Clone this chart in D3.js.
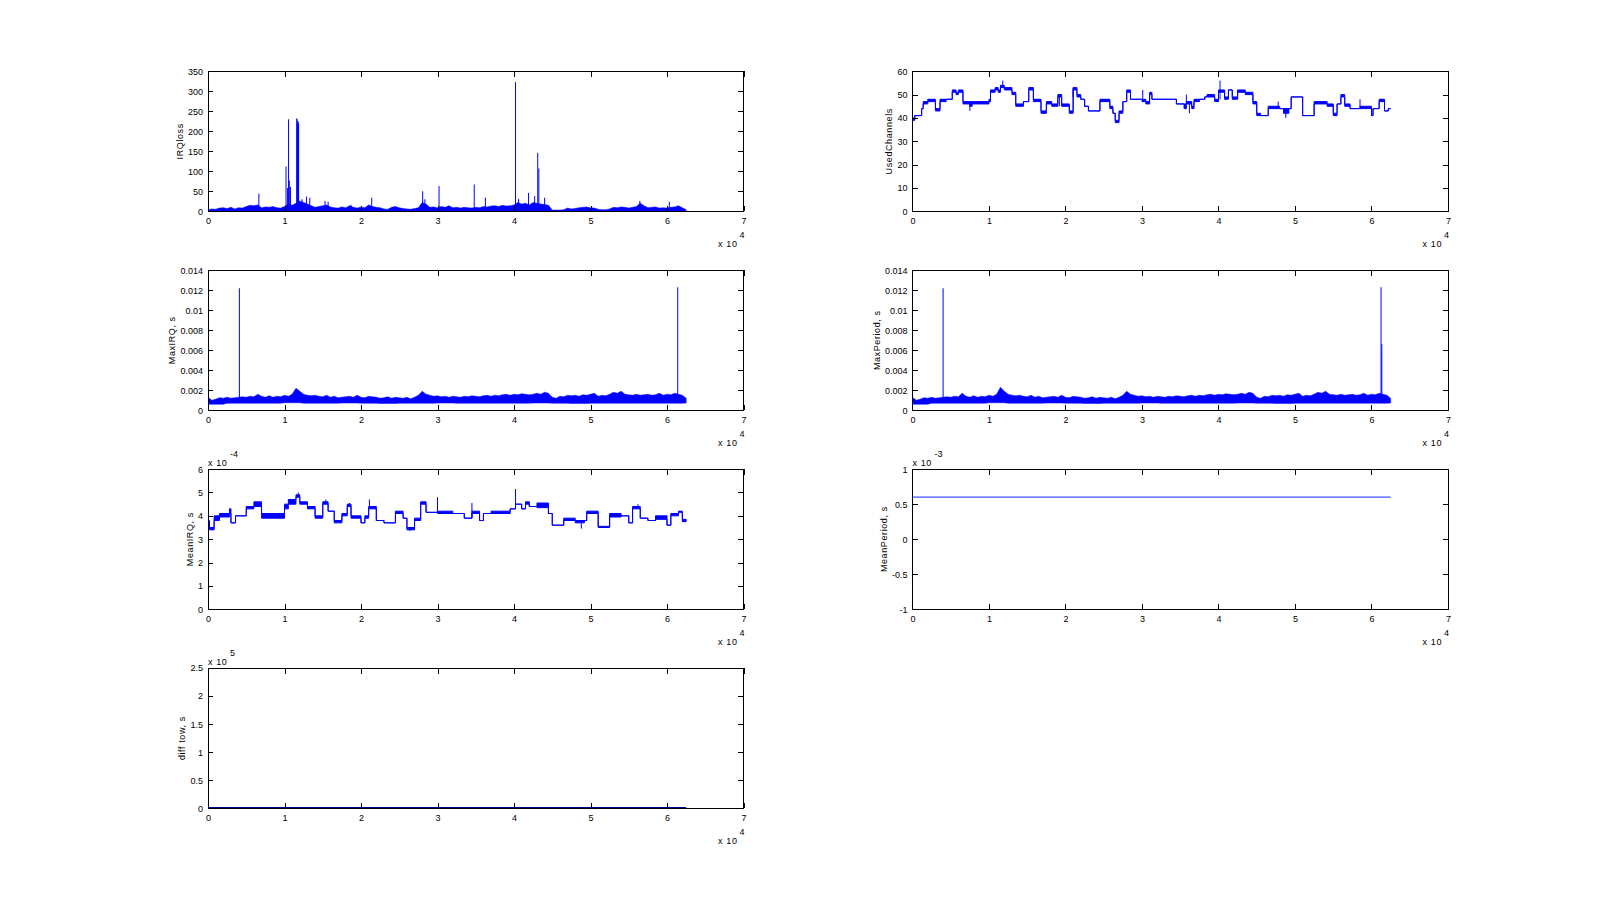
<!DOCTYPE html>
<html>
<head>
<meta charset="utf-8">
<script src="https://cdn.jsdelivr.net/npm/d3@7"></script>
<style>
  body { margin: 0; background: #fff; }
  text { font-family: 'Liberation Sans', Arial, sans-serif; font-size: 9px; fill: #000; }
  .lbl { letter-spacing: 0.6px; }
</style>
</head>
<body>
<svg id="fig" width="1600" height="908"></svg>
<script>
// x axis is in units of 10^4 samples
const xTicks = [0, 1, 2, 3, 4, 5, 6, 7]
const xEnd = 6.25
const bandStep = 0.05 // spacing of the envelope readings below

// IRQloss: upper edge of the dense band, read every 0.05 (x 10^4)
const irqBand = [4, 6, 5, 8, 9, 7, 10, 6, 9, 8, 12, 15, 14, 16, 9, 11, 10, 12, 9, 8,
  12, 18, 15, 20, 26, 22, 18, 14, 10, 12, 14, 16, 11, 9, 8, 11, 9, 14, 10, 8,
  11, 9, 16, 12, 10, 9, 6, 5, 10, 12, 9, 7, 6, 5, 7, 9, 22, 18, 10, 11,
  9, 12, 10, 14, 9, 10, 8, 10, 9, 8, 10, 9, 12, 11, 13, 14, 12, 15, 13, 14,
  16, 22, 18, 20, 16, 22, 20, 18, 17, 15, 3, 3, 3, 4, 8, 6, 7, 9, 10, 11,
  9, 8, 5, 4, 4, 6, 10, 9, 11, 10, 8, 10, 12, 20, 14, 9, 10, 11, 8, 9,
  8, 10, 11, 14, 9, 4]
const irqSpikeX = [0.665, 1.02, 1.04, 1.053, 1.063, 1.078, 1.160, 1.165, 1.170, 1.175, 1.180, 1.185,
  1.23, 1.287, 1.33, 1.53, 1.57, 1.87, 2.14, 2.806, 2.835, 3.02, 3.48, 3.626,
  4.02, 4.06, 4.19, 4.27, 4.31, 4.325, 4.40, 5.645, 6.03]
const irqSpikeY = [44, 112, 58, 230, 77, 61, 232, 230, 222, 220, 225, 218,
  30, 37, 34, 26, 24, 16, 34, 50, 30, 63, 67, 34,
  323, 31, 46, 38, 146, 107, 34, 26, 24]
const irqTicks = [0, 50, 100, 150, 200, 250, 300, 350]
const irqTickLabels = ['0', '50', '100', '150', '200', '250', '300', '350']

// UsedChannels: step levels (low / high of the flicker) starting at usedX
const usedX = [0.00, 0.03, 0.12, 0.14, 0.20, 0.30, 0.36, 0.44, 0.52, 0.57, 0.60, 0.66, 0.75, 0.78,
  1.00, 1.02, 1.08, 1.12, 1.15, 1.20, 1.30, 1.35, 1.45, 1.52, 1.58, 1.68, 1.75, 1.82, 1.90, 1.95,
  2.05, 2.10, 2.15, 2.20, 2.25, 2.30, 2.45, 2.58, 2.62, 2.65, 2.70, 2.75, 2.80, 2.85,
  3.00, 3.05, 3.10, 3.13, 3.45, 3.55, 3.58, 3.65, 3.68, 3.75, 3.82, 3.85, 3.95,
  4.00, 4.08, 4.13, 4.18, 4.25, 4.35, 4.45, 4.50, 4.55, 4.65, 4.80, 4.85, 4.92, 4.95,
  5.10, 5.25, 5.42, 5.50, 5.55, 5.60, 5.65, 5.72, 5.85, 6.00, 6.02, 6.10, 6.17, 6.22]
const usedLo = [39, 41, 44, 46, 47, 43, 47, 48, 51, 50, 51, 46, 45, 46,
  47, 51, 52, 51, 53, 52, 50, 45, 47, 52, 47, 42, 46, 45, 49, 45,
  42, 52, 49, 48, 45, 43, 47, 44, 42, 38, 42, 47, 51, 48,
  47, 46, 50, 48, 46, 44, 46, 44, 47, 48, 49, 49, 47,
  51, 48, 52, 48, 51, 50, 46, 41, 41, 44, 44, 42, 44, 49,
  41, 46, 45, 41, 46, 49, 45, 44, 44, 41, 44, 47, 43, 44]
const usedHi = [40, 41, 44, 47, 48, 44, 48, 48, 52, 51, 52, 47, 47, 47,
  48, 52, 53, 52, 54, 53, 51, 46, 47, 53, 48, 43, 47, 46, 50, 46,
  43, 53, 50, 48, 45, 43, 48, 45, 42, 39, 43, 47, 52, 48,
  48, 47, 51, 48, 46, 46, 47, 45, 48, 48, 49, 50, 48,
  52, 49, 52, 49, 52, 51, 47, 42, 41, 45, 44, 44, 44, 49,
  41, 47, 46, 42, 46, 50, 46, 44, 45, 41, 44, 48, 43, 44]
const usedSpikeX = [0.75, 1.18, 1.92, 2.10, 3.01, 3.58, 3.62, 4.02, 4.78, 4.88, 5.85]
const usedSpikeFrom = [46, 53, 45, 49, 48, 46, 47, 48, 44, 44, 44]
const usedSpikeTo = [43, 56, 50, 53, 52, 50, 42, 56, 47, 40, 48]
const usedTicks = [0, 10, 20, 30, 40, 50, 60]
const usedTickLabels = ['0', '10', '20', '30', '40', '50', '60']

// MaxIRQ, ms: upper edge every 0.05, lower edge every 0.25
const maxIrqHi = [1.3, 1.0, 1.1, 1.25, 1.2, 1.3, 1.2, 1.25, 1.3, 1.35, 1.3, 1.4, 1.35, 1.6, 1.4, 1.3, 1.45, 1.3, 1.4, 1.35,
  1.5, 1.4, 1.6, 2.2, 1.9, 1.6, 1.5, 1.45, 1.5, 1.4, 1.35, 1.5, 1.3, 1.4, 1.25, 1.3, 1.35, 1.4, 1.3, 1.5,
  1.3, 1.25, 1.4, 1.35, 1.3, 1.2, 1.25, 1.35, 1.2, 1.3, 1.25, 1.2, 1.3, 1.15, 1.3, 1.5, 1.9, 1.6, 1.5, 1.4,
  1.45, 1.35, 1.4, 1.3, 1.4, 1.35, 1.3, 1.4, 1.35, 1.45, 1.4, 1.35, 1.45, 1.5, 1.4, 1.5, 1.45, 1.55, 1.6, 1.5,
  1.6, 1.55, 1.65, 1.6, 1.55, 1.6, 1.7, 1.6, 1.8, 1.7, 1.3, 1.2, 1.4, 1.35, 1.5, 1.45, 1.5, 1.4, 1.55, 1.5,
  1.6, 1.7, 1.4, 1.5, 1.45, 1.6, 1.8, 1.7, 1.9, 1.6, 1.55, 1.5, 1.6, 1.5, 1.55, 1.6, 1.5, 1.55, 1.7, 1.5,
  1.6, 1.55, 1.7, 1.6, 1.5, 1.2]
const maxIrqLo = [0.6, 0.7, 0.7, 0.7, 0.75, 0.7, 0.7, 0.72, 0.7, 0.68, 0.7, 0.7, 0.72,
  0.7, 0.7, 0.7, 0.7, 0.72, 0.7, 0.68, 0.7, 0.7, 0.7, 0.7, 0.7, 0.72]
const maxIrqSpikeX = [0.41, 6.14]
const maxIrqSpikeY = [12.2, 12.3]

// MaxPeriod, ms
const maxPeriodHi = [1.3, 1.0, 1.1, 1.25, 1.2, 1.3, 1.2, 1.25, 1.3, 1.35, 1.3, 1.4, 1.35, 1.7, 1.4, 1.3, 1.45, 1.3, 1.4, 1.35,
  1.5, 1.4, 1.6, 2.3, 1.9, 1.6, 1.5, 1.45, 1.5, 1.4, 1.35, 1.5, 1.3, 1.4, 1.25, 1.3, 1.35, 1.4, 1.3, 1.5,
  1.3, 1.25, 1.4, 1.35, 1.3, 1.2, 1.25, 1.35, 1.2, 1.3, 1.25, 1.2, 1.3, 1.15, 1.3, 1.5, 1.9, 1.6, 1.5, 1.4,
  1.45, 1.35, 1.4, 1.3, 1.4, 1.35, 1.3, 1.4, 1.35, 1.45, 1.4, 1.35, 1.45, 1.5, 1.4, 1.5, 1.45, 1.55, 1.6, 1.5,
  1.6, 1.55, 1.65, 1.6, 1.55, 1.6, 1.7, 1.6, 1.8, 1.7, 1.3, 1.2, 1.4, 1.35, 1.5, 1.45, 1.5, 1.4, 1.55, 1.5,
  1.6, 1.7, 1.4, 1.5, 1.45, 1.6, 1.8, 1.7, 1.9, 1.6, 1.55, 1.5, 1.6, 1.5, 1.55, 1.6, 1.5, 1.55, 1.7, 1.5,
  1.6, 1.55, 1.7, 1.6, 1.5, 1.2]
const maxPeriodLo = [0.6, 0.7, 0.7, 0.7, 0.75, 0.7, 0.7, 0.72, 0.7, 0.68, 0.7, 0.7, 0.72,
  0.7, 0.7, 0.7, 0.7, 0.72, 0.7, 0.68, 0.7, 0.7, 0.7, 0.7, 0.7, 0.72]
const maxPeriodSpikeX = [0.40, 6.125, 6.135]
const maxPeriodSpikeY = [12.2, 12.3, 6.6]
const msTicks = [0, 2, 4, 6, 8, 10, 12, 14]
const msTickLabels = ['0', '0.002', '0.004', '0.006', '0.008', '0.01', '0.012', '0.014']

// MeanIRQ, x 10^-4 s: step levels
const meanIrqX = [0.00, 0.02, 0.08, 0.15, 0.28, 0.30, 0.36, 0.50, 0.60, 0.70,
  1.00, 1.05, 1.15, 1.20, 1.30, 1.40, 1.50, 1.57, 1.65, 1.75, 1.82, 1.87,
  2.00, 2.05, 2.10, 2.20, 2.30, 2.45, 2.55, 2.60, 2.70, 2.78, 2.85,
  3.00, 3.20, 3.35, 3.45, 3.55, 3.60, 3.70, 3.95,
  4.02, 4.10, 4.15, 4.20, 4.30, 4.45, 4.50, 4.65, 4.80, 4.92, 4.95,
  5.10, 5.25, 5.40, 5.50, 5.55, 5.65, 5.75, 5.85, 6.00, 6.05, 6.15, 6.20]
const meanIrqLo = [3.7, 3.4, 3.8, 3.95, 4.1, 3.7, 4.0, 4.3, 4.4, 3.9,
  4.3, 4.5, 4.8, 4.5, 4.3, 3.9, 4.5, 4.2, 3.7, 4.0, 4.4, 3.9,
  3.7, 3.9, 4.3, 3.8, 3.7, 4.1, 3.9, 3.4, 3.8, 4.5, 4.15,
  4.1, 4.1, 3.9, 4.1, 3.8, 4.1, 4.1, 4.3,
  4.5, 4.3, 4.5, 4.4, 4.35, 4.1, 3.6, 3.8, 3.7, 3.8, 4.1,
  3.5, 3.95, 4.0, 3.7, 4.3, 3.9, 3.8, 3.85, 3.6, 4.0, 4.15, 3.75]
const meanIrqHi = [3.8, 3.5, 4.0, 4.1, 4.3, 3.7, 4.0, 4.4, 4.6, 4.1,
  4.5, 4.7, 4.9, 4.6, 4.4, 4.0, 4.6, 4.2, 3.8, 4.1, 4.5, 4.0,
  3.7, 4.0, 4.4, 3.8, 3.7, 4.2, 3.9, 3.5, 3.9, 4.6, 4.15,
  4.2, 4.1, 3.9, 4.2, 3.8, 4.1, 4.2, 4.3,
  4.5, 4.3, 4.6, 4.4, 4.55, 4.1, 3.6, 3.9, 3.8, 3.8, 4.2,
  3.55, 4.1, 4.0, 3.7, 4.4, 3.9, 3.8, 4.0, 3.6, 4.1, 4.2, 3.85]
const meanIrqSpikeX = [0.62, 1.18, 1.54, 1.85, 2.11, 2.64, 3.00, 3.45, 4.02, 4.88, 5.62]
const meanIrqSpikeFrom = [4.4, 4.8, 4.5, 4.4, 4.3, 3.5, 4.15, 3.9, 4.3, 3.7, 4.3]
const meanIrqSpikeTo = [4.6, 5.0, 4.7, 4.55, 4.7, 3.35, 4.8, 4.55, 5.15, 3.45, 4.5]
const meanIrqTicks = [0, 1, 2, 3, 4, 5, 6]
const meanIrqTickLabels = ['0', '1', '2', '3', '4', '5', '6']

// MeanPeriod, x 10^-3 s
const meanPeriodX = [0, 6.25]
const meanPeriodY = [0.6, 0.6]
const meanPeriodTicks = [-1, -0.5, 0, 0.5, 1]
const meanPeriodTickLabels = ['-1', '-0.5', '0', '0.5', '1']

// diff tow, x 10^5 s
const diffTowX = [0, 6.25]
const diffTowY = [0.008, 0.008]
const diffTowTicks = [0, 0.5, 1, 1.5, 2, 2.5]
const diffTowTickLabels = ['0', '0.5', '1', '1.5', '2', '2.5']

const BLUE = '#0000ff'
const W = 1600
const H = 908
// matlab-like subplot(4,2) positions (normalized)
const colLeft = [0.13, 0.5703]
const rowBottom = [0.7673, 0.5482, 0.3291, 0.11]
const axW = 0.3347
const axH = 0.1542
const tickLen = 5.4

const svg = d3.select('#fig')
let clipId = 0

function makeAxes (col, row, yDomain) {
  const left = W * colLeft[col]
  const width = W * axW
  const top = H * (1 - rowBottom[row] - axH)
  const height = H * axH
  const g = svg.append('g').attr('transform', `translate(${left},${top})`)
  const x = d3.scaleLinear().domain([0, 7]).range([0, width])
  const y = d3.scaleLinear().domain(yDomain).range([height, 0])
  const id = 'clip' + (clipId++)
  g.append('clipPath').attr('id', id)
    .append('rect').attr('width', width).attr('height', height)
  const plot = g.append('g').attr('clip-path', `url(#${id})`)
  return { g, plot, x, y, width, height }
}

function finishAxes (ax, yTicks, yLabels, ylabel, yExp) {
  const { g, x, y, width, height } = ax

  g.append('g').attr('transform', `translate(0,${height})`)
    .call(d3.axisBottom(x).tickValues(xTicks).tickFormat(d => String(d))
      .tickSizeInner(-tickLen).tickSizeOuter(0).tickPadding(6.3))
  g.append('g')
    .call(d3.axisTop(x).tickValues(xTicks).tickFormat('').tickSizeInner(-tickLen).tickSizeOuter(0))
  const leftAxis = g.append('g')
    .call(d3.axisLeft(y).tickValues(yTicks).tickFormat((d, i) => yLabels[i])
      .tickSizeInner(-tickLen).tickSizeOuter(0).tickPadding(5))
  g.append('g').attr('transform', `translate(${width},0)`)
    .call(d3.axisRight(y).tickValues(yTicks).tickFormat('').tickSizeInner(-tickLen).tickSizeOuter(0))

  g.selectAll('.domain').remove()
  g.selectAll('.tick line').attr('stroke', '#000').attr('shape-rendering', 'crispEdges')
  g.selectAll('g').attr('font-family', null).attr('font-size', null)

  g.append('rect')
    .attr('width', width).attr('height', height)
    .attr('fill', 'none').attr('stroke', '#000').attr('stroke-width', 1)
    .attr('shape-rendering', 'crispEdges')

  // y label sits a fixed gap left of the widest tick label
  const maxW = d3.max(leftAxis.selectAll('text').nodes(), n => n.getComputedTextLength())
  const cx = -13.5 - maxW
  g.append('text')
    .attr('class', 'lbl')
    .attr('transform', `translate(${cx},${height / 2}) rotate(-90)`)
    .attr('text-anchor', 'middle')
    .attr('dy', '0.35em')
    .text(ylabel)

  // x multiplier, bottom right
  g.append('text').attr('class', 'lbl').attr('x', width - 6).attr('y', height + 36).attr('text-anchor', 'end').text('x 10')
  g.append('text').attr('x', width - 4).attr('y', height + 27).text('4')

  // y multiplier, top left
  if (yExp) {
    g.append('text').attr('class', 'lbl').attr('x', 0).attr('y', -3).text('x 10')
    g.append('text').attr('x', 22).attr('y', -12).text(yExp)
  }
}

function drawSpikes (ax, xs, from, to) {
  ax.plot.selectAll(null)
    .data(xs)
    .enter()
    .append('line')
    .attr('x1', d => ax.x(d))
    .attr('x2', d => ax.x(d))
    .attr('y1', (d, i) => ax.y(Array.isArray(from) ? from[i] : from))
    .attr('y2', (d, i) => ax.y(to[i]))
    .attr('stroke', BLUE)
    .attr('stroke-width', 1)
}

function drawSteps (ax, xs, lo, hi) {
  const pts = xs.map((x, i) => ({ x, lo: lo[i], hi: hi[i] }))
  pts.push({ x: xEnd, lo: lo[lo.length - 1], hi: hi[hi.length - 1] })
  const area = d3.area()
    .curve(d3.curveStepAfter)
    .x(d => ax.x(d.x))
    .y0(d => ax.y(d.lo))
    .y1(d => ax.y(d.hi))
  ax.plot.append('path')
    .datum(pts)
    .attr('d', area)
    .attr('fill', BLUE)
    .attr('stroke', BLUE)
    .attr('stroke-width', 1)
}

function drawBand (ax, hi, lo) {
  // lo is read 5x coarser than hi
  const area = d3.area()
    .x((d, i) => ax.x(i * bandStep))
    .y0((d, i) => ax.y(lo ? lo[Math.floor(i / 5)] : 0))
    .y1(d => ax.y(d))
  ax.plot.append('path')
    .datum(hi)
    .attr('d', area)
    .attr('fill', BLUE)
    .attr('stroke', BLUE)
    .attr('stroke-width', 0.5)
}

function drawLine (ax, xs, ys, color, w) {
  const line = d3.line().x((d, i) => ax.x(xs[i])).y(d => ax.y(d))
  ax.plot.append('path')
    .datum(ys)
    .attr('d', line)
    .attr('fill', 'none')
    .attr('stroke', color)
    .attr('stroke-width', w)
}

// IRQloss
const a1 = makeAxes(0, 0, [0, 350])
drawBand(a1, irqBand, null)
drawSpikes(a1, irqSpikeX, 0, irqSpikeY)
finishAxes(a1, irqTicks, irqTickLabels, 'IRQloss', null)

// UsedChannels
const a2 = makeAxes(1, 0, [0, 60])
drawSteps(a2, usedX, usedLo, usedHi)
drawSpikes(a2, usedSpikeX, usedSpikeFrom, usedSpikeTo)
finishAxes(a2, usedTicks, usedTickLabels, 'UsedChannels', null)

// MaxIRQ
const a3 = makeAxes(0, 1, [0, 14])
drawBand(a3, maxIrqHi, maxIrqLo)
drawSpikes(a3, maxIrqSpikeX, 1.0, maxIrqSpikeY)
finishAxes(a3, msTicks, msTickLabels, 'MaxIRQ, s', null)

// MaxPeriod
const a4 = makeAxes(1, 1, [0, 14])
drawBand(a4, maxPeriodHi, maxPeriodLo)
drawSpikes(a4, maxPeriodSpikeX, 1.0, maxPeriodSpikeY)
finishAxes(a4, msTicks, msTickLabels, 'MaxPeriod, s', null)

// MeanIRQ
const a5 = makeAxes(0, 2, [0, 6])
drawSteps(a5, meanIrqX, meanIrqLo, meanIrqHi)
drawSpikes(a5, meanIrqSpikeX, meanIrqSpikeFrom, meanIrqSpikeTo)
finishAxes(a5, meanIrqTicks, meanIrqTickLabels, 'MeanIRQ, s', '-4')

// MeanPeriod
const a6 = makeAxes(1, 2, [-1, 1])
drawLine(a6, meanPeriodX, meanPeriodY, '#3d55ff', 1.4)
finishAxes(a6, meanPeriodTicks, meanPeriodTickLabels, 'MeanPeriod, s', '-3')

// diff tow
const a7 = makeAxes(0, 3, [0, 2.5])
drawLine(a7, diffTowX, diffTowY, '#00008b', 1.4)
finishAxes(a7, diffTowTicks, diffTowTickLabels, 'diff tow, s', '5')
</script>
</body>
</html>
